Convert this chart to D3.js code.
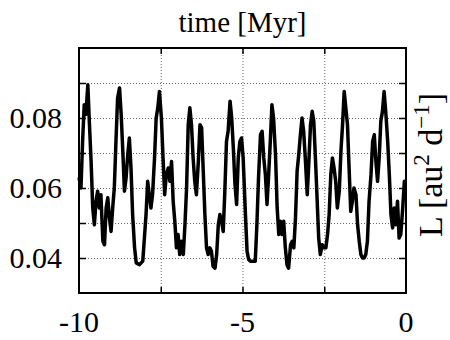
<!DOCTYPE html>
<html>
<head>
<meta charset="utf-8">
<script src="https://cdn.jsdelivr.net/npm/d3@7"></script>
<style>
  body { margin: 0; background: #fff; }
  svg text { font-family: "Liberation Serif", "DejaVu Serif", "Times New Roman", Times, serif; fill: #000; }
  .grid line { stroke: #666; stroke-width: 1; stroke-dasharray: 1,2; }
  .grid path { display: none; }
  .ticks line { stroke: #000; stroke-width: 1.5; }
  .ticks path { display: none; }
</style>
</head>
<body>
<svg id="chart" width="450" height="340"></svg>
<script>
// time [Myr] and L [au^2 d^-1]
var times = [
  -10.00, -9.94, -9.89, -9.84, -9.79, -9.73, -9.68, -9.63, -9.58, -9.53,
  -9.48, -9.43, -9.38, -9.33, -9.27, -9.22, -9.17, -9.12, -9.07, -9.02,
  -8.97, -8.92, -8.87, -8.82, -8.76, -8.71, -8.66, -8.61, -8.56, -8.51,
  -8.46, -8.41, -8.36, -8.30, -8.25, -8.15, -8.05, -8.00, -7.95, -7.90,
  -7.85, -7.80, -7.75, -7.69, -7.64, -7.59, -7.54,
  -7.48, -7.43, -7.38, -7.33, -7.27, -7.22, -7.17, -7.12, -7.07, -7.02,
  -6.97, -6.92, -6.87, -6.81, -6.76, -6.71, -6.66, -6.61, -6.56, -6.51,
  -6.46, -6.41, -6.35, -6.30, -6.25, -6.20, -6.15, -6.10, -6.05, -6.00,
  -5.95, -5.90, -5.84, -5.79, -5.74, -5.69, -5.64, -5.59, -5.54, -5.49,
  -5.44, -5.38, -5.33, -5.28, -5.23, -5.18, -5.13, -5.08, -5.03, -4.98,
  -4.91, -4.86, -4.81, -4.76, -4.71, -4.66, -4.61, -4.56, -4.51, -4.45,
  -4.40, -4.35, -4.30, -4.25, -4.20, -4.15, -4.10, -4.05, -3.99, -3.94,
  -3.89, -3.84, -3.79, -3.74, -3.69, -3.64, -3.59, -3.53, -3.48, -3.43,
  -3.38, -3.33, -3.28, -3.23, -3.18, -3.13, -3.08, -3.02, -2.97, -2.92,
  -2.87, -2.82, -2.77, -2.72, -2.67, -2.62, -2.56, -2.51,
  -2.45, -2.40, -2.35, -2.30, -2.25, -2.20, -2.15, -2.10, -2.04, -1.99,
  -1.94, -1.89, -1.84, -1.79, -1.74, -1.69, -1.64, -1.59, -1.53, -1.48,
  -1.43, -1.38, -1.33, -1.28, -1.23, -1.18, -1.13, -1.07, -1.02, -0.97,
  -0.92, -0.87, -0.82, -0.77, -0.72, -0.67, -0.62, -0.56, -0.51, -0.46,
  -0.41, -0.36, -0.31, -0.26, -0.21, -0.16, -0.10, -0.05, 0.00
];

var angMom = [
  0.0630, 0.0600, 0.0733, 0.0838, 0.0810, 0.0895, 0.0781, 0.0676, 0.0543, 0.0495,
  0.0562, 0.0591, 0.0543, 0.0581, 0.0448, 0.0438, 0.0543, 0.0572, 0.0514, 0.0476,
  0.0543, 0.0600, 0.0733, 0.0857, 0.0886, 0.0810, 0.0705, 0.0591, 0.0629, 0.0695,
  0.0743, 0.0657, 0.0524, 0.0429, 0.0386, 0.0381, 0.0391, 0.0457, 0.0524, 0.0619,
  0.0581, 0.0543, 0.0581, 0.0686, 0.0800, 0.0829, 0.0876,
  0.0800, 0.0686, 0.0581, 0.0638, 0.0657, 0.0619, 0.0676, 0.0562, 0.0505, 0.0429,
  0.0467, 0.0410, 0.0448, 0.0410, 0.0495, 0.0600, 0.0781, 0.0829, 0.0781, 0.0686,
  0.0619, 0.0581, 0.0676, 0.0781, 0.0772, 0.0648, 0.0524, 0.0429, 0.0410, 0.0429,
  0.0419, 0.0376, 0.0371, 0.0410, 0.0495, 0.0524, 0.0505, 0.0476, 0.0591, 0.0733,
  0.0762, 0.0848, 0.0800, 0.0714, 0.0610, 0.0553, 0.0686, 0.0733, 0.0743, 0.0686,
  0.0524, 0.0419, 0.0395, 0.0391, 0.0391, 0.0391, 0.0391, 0.0495, 0.0629, 0.0752,
  0.0762, 0.0686, 0.0638, 0.0553, 0.0638, 0.0733, 0.0838, 0.0800, 0.0695, 0.0543,
  0.0467, 0.0505, 0.0467, 0.0505, 0.0429, 0.0381, 0.0371, 0.0438, 0.0448, 0.0429,
  0.0514, 0.0648, 0.0695, 0.0752, 0.0800, 0.0762, 0.0686, 0.0581, 0.0676, 0.0781,
  0.0819, 0.0791, 0.0686, 0.0572, 0.0457, 0.0410, 0.0438, 0.0429,
  0.0429, 0.0467, 0.0524, 0.0638, 0.0686, 0.0657, 0.0619, 0.0543, 0.0591, 0.0705,
  0.0781, 0.0876, 0.0829, 0.0781, 0.0657, 0.0533, 0.0562, 0.0600, 0.0581, 0.0495,
  0.0448, 0.0410, 0.0400, 0.0400, 0.0410, 0.0448, 0.0562, 0.0638, 0.0733, 0.0752,
  0.0676, 0.0619, 0.0686, 0.0791, 0.0819, 0.0876, 0.0819, 0.0733, 0.0638, 0.0524,
  0.0486, 0.0543, 0.0495, 0.0562, 0.0457, 0.0467, 0.0543, 0.0619, 0.0619
];

var xGridTicks = [-7.5, -5, -2.5];
var xLabelTicks = [-10, -5, 0];
var yGridTicks = [0.04, 0.05, 0.06, 0.07, 0.08, 0.09];
var yLabelTicks = [0.04, 0.06, 0.08];

(function() {
  var left = 79, right = 406, top = 48, bottom = 293;

  var x = d3.scaleLinear().domain([-10, 0]).range([left, right]);
  var y = d3.scaleLinear().domain([0.03, 0.1]).range([bottom, top]);

  var svg = d3.select('#chart');

  // dotted grid
  svg.append('g')
    .attr('class', 'grid')
    .attr('transform', 'translate(0,' + bottom + ')')
    .call(d3.axisBottom(x).tickValues(xGridTicks).tickSize(-(bottom - top)).tickFormat(''));

  svg.append('g')
    .attr('class', 'grid')
    .attr('transform', 'translate(' + left + ',0)')
    .call(d3.axisLeft(y).tickValues(yGridTicks).tickSize(-(right - left)).tickFormat(''));

  // inward tick marks on all four sides
  svg.append('g').attr('class', 'ticks')
    .attr('transform', 'translate(0,' + bottom + ')')
    .call(d3.axisBottom(x).tickValues(xGridTicks).tickSize(-6).tickFormat(''));
  svg.append('g').attr('class', 'ticks')
    .attr('transform', 'translate(0,' + top + ')')
    .call(d3.axisTop(x).tickValues(xGridTicks).tickSize(-6).tickFormat(''));
  svg.append('g').attr('class', 'ticks')
    .attr('transform', 'translate(' + left + ',0)')
    .call(d3.axisLeft(y).tickValues(yGridTicks).tickSize(-7).tickFormat(''));
  svg.append('g').attr('class', 'ticks')
    .attr('transform', 'translate(' + right + ',0)')
    .call(d3.axisRight(y).tickValues(yGridTicks).tickSize(-7).tickFormat(''));

  // the series
  var line = d3.line()
    .x(function(d) { return x(d[0]); })
    .y(function(d) { return y(d[1]); });

  svg.append('path')
    .datum(d3.zip(times, angMom))
    .attr('fill', 'none')
    .attr('stroke', '#000')
    .attr('stroke-width', 3.5)
    .attr('stroke-linejoin', 'round')
    .attr('d', line);

  // frame
  svg.append('rect')
    .attr('x', left)
    .attr('y', top)
    .attr('width', right - left)
    .attr('height', bottom - top)
    .attr('fill', 'none')
    .attr('stroke', '#000')
    .attr('stroke-width', 2);

  // tick labels
  svg.selectAll('.xlabel')
    .data(xLabelTicks)
    .enter().append('text')
    .attr('class', 'xlabel')
    .attr('x', function(d) { return x(d); })
    .attr('y', 332)
    .attr('text-anchor', 'middle')
    .attr('font-size', 30)
    .text(function(d) { return String(d); });

  svg.selectAll('.ylabel')
    .data(yLabelTicks)
    .enter().append('text')
    .attr('class', 'ylabel')
    .attr('x', 62)
    .attr('y', function(d) { return y(d) + 10; })
    .attr('text-anchor', 'end')
    .attr('font-size', 30)
    .text(d3.format('.2f'));

  // titles
  svg.append('text')
    .attr('x', (left + right) / 2)
    .attr('y', 32)
    .attr('text-anchor', 'middle')
    .attr('font-size', 29)
    .text('time [Myr]');

  var yTitle = svg.append('text')
    .attr('transform', 'translate(442,165) rotate(-90)')
    .attr('text-anchor', 'middle')
    .attr('font-size', 34);
  yTitle.append('tspan').text('L [au');
  yTitle.append('tspan').attr('dy', -13).attr('font-size', 23).text('2');
  yTitle.append('tspan').attr('dy', 13).text(' d');
  yTitle.append('tspan').attr('dy', -13).attr('font-size', 23).text('\u22121');
  yTitle.append('tspan').attr('dy', 13).text(']');
})();
</script>
</body>
</html>
